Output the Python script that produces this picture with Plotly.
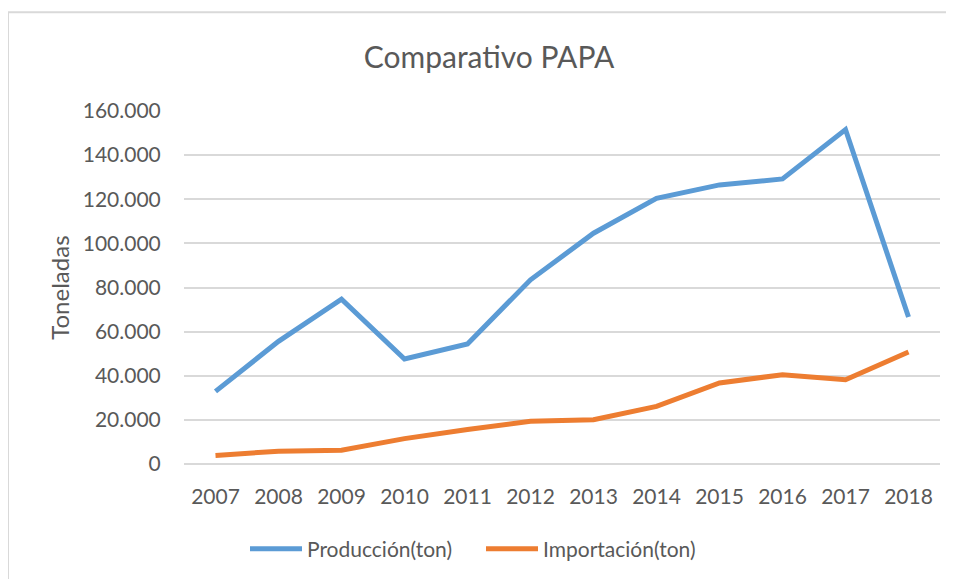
import plotly.graph_objects as go

years = ["2007", "2008", "2009", "2010", "2011", "2012", "2013", "2014", "2015", "2016", "2017", "2018"]
produccion = [32900, 55600, 74700, 47600, 54400, 83500, 104600, 120400, 126500, 129200, 151600, 66600]
importacion = [3900, 5800, 6200, 11500, 15600, 19400, 20100, 26100, 36700, 40500, 38200, 50800]
y_ticks = [0, 20000, 40000, 60000, 80000, 100000, 120000, 140000, 160000]

FONT = "Lato"
TXT = "#595959"

fig = go.Figure()
fig.add_trace(go.Scatter(x=years, y=produccion, mode="lines", name="Producción(ton)",
                         line=dict(color="#5B9BD5", width=5)))
fig.add_trace(go.Scatter(x=years, y=importacion, mode="lines", name="Importación(ton)",
                         line=dict(color="#ED7D31", width=5)))

# page body has an 8px margin; figure is sized/offset to compensate
OFF = 8
W, H = 954 - OFF, 579 - OFF
L = 184 - OFF
T = 111 - OFF
R = 954 - 940
B = 579 - 464.5
pw = W - L - R
ph = H - T - B

def px_x(x):
    return (x - OFF - L) / pw

def px_y(y):
    return (H - B - (y - OFF)) / ph

fig.update_layout(
    width=W, height=H,
    margin=dict(l=L, r=R, t=T, b=B, autoexpand=False),
    paper_bgcolor="white", plot_bgcolor="white",
    separators=",.",
    font=dict(family=FONT, color=TXT, size=21),
    title=dict(text="Comparativo PAPA", font=dict(size=30, color=TXT, family=FONT),
               xref="container", yref="container", x=(489 - OFF) / W, y=1 - (57 - OFF) / H,
               xanchor="center", yanchor="middle"),
    showlegend=True,
    legend=dict(orientation="h", xref="container", yref="container",
                x=(250 - OFF - 5) / W, y=1 - (549 - OFF) / H, xanchor="left", yanchor="middle",
                font=dict(size=21, color=TXT), itemwidth=52, entrywidth=169,
                entrywidthmode="pixels", bgcolor="rgba(0,0,0,0)"),
    xaxis=dict(type="category", range=[-0.5, 11.5], showgrid=False,
               showline=False, zeroline=False, ticks="outside", ticklen=14,
               tickcolor="rgba(0,0,0,0)", tickfont=dict(size=21, color=TXT),
               fixedrange=True),
    yaxis=dict(range=[0, 160000], tickvals=y_ticks, tickformat=",d",
               showgrid=True, gridcolor="#D9D9D9", gridwidth=1.5,
               zeroline=True, zerolinecolor="#D9D9D9", zerolinewidth=1.5,
               showline=False, ticks="outside", ticklen=18, tickcolor="rgba(0,0,0,0)",
               tickfont=dict(size=21, color=TXT), fixedrange=True),
    annotations=[dict(text="Toneladas", textangle=-90, xref="paper", yref="paper",
                      x=px_x(60), y=px_y(288), xanchor="center", yanchor="middle",
                      showarrow=False, font=dict(size=24, color=TXT, family=FONT))],
    shapes=[
        dict(type="line", xref="paper", yref="paper", x0=px_x(8), x1=px_x(970),
             y0=px_y(12), y1=px_y(12), line=dict(color="#D9D9D9", width=2)),
        dict(type="line", xref="paper", yref="paper", x0=px_x(8), x1=px_x(8),
             y0=px_y(12), y1=px_y(600), line=dict(color="#D9D9D9", width=2)),
    ],
)

fig.write_html("out.html")
